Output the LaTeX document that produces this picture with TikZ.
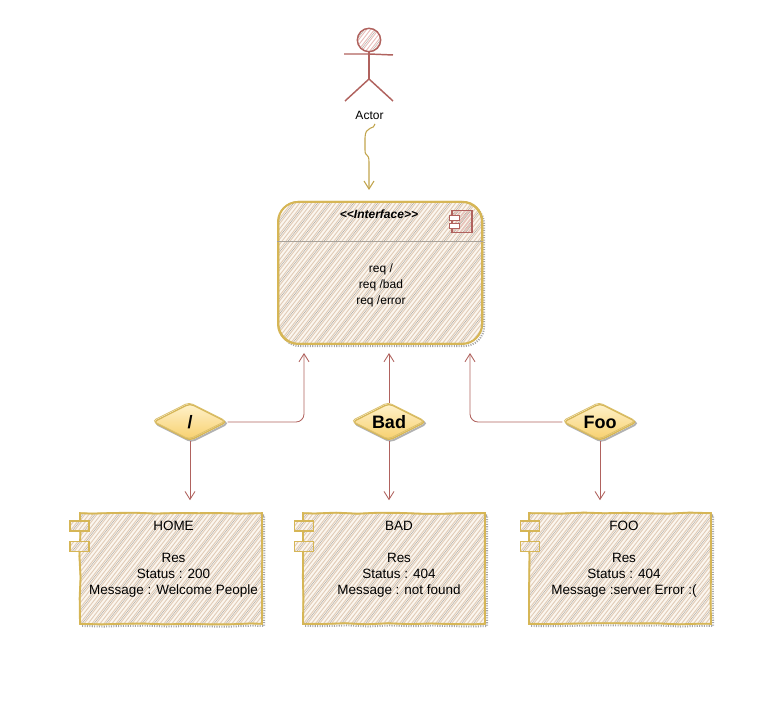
\documentclass[tikz,border=0pt]{standalone}
\usepackage{fontspec}
\setmainfont{Liberation Sans}
\usetikzlibrary{arrows.meta,decorations.pathmorphing,shapes.geometric,calc}
\definecolor{rust}{HTML}{B0625E}
\definecolor{gold}{HTML}{D6B656}
\definecolor{hatch}{HTML}{E2CDB8}
\definecolor{hatchdark}{HTML}{A8A29A}
\definecolor{rose}{HTML}{E8BDB9}
\definecolor{paper}{HTML}{FBF6EF}
\definecolor{sunlight}{HTML}{FFF2CC}
\definecolor{sundeep}{HTML}{F7CF6B}
\newcommand{\hatchlines}[1]{%
  \foreach \i in {-120,-116,...,215} {
    \draw[#1,line width=0.7pt] ([xshift=\i*0.75pt]path picture bounding box.south west) -- ++(105pt,135pt);
  }
  \foreach \i in {-118,-106,...,215} {
    \draw[hatchdark,line width=0.3pt] ([xshift=\i*0.75pt]path picture bounding box.south west) -- ++(105pt,135pt);
  }}
\tikzset{
  rough/.style={decorate,decoration={random steps,segment length=16pt,amplitude=0.45pt}},
  shade line/.style={preaction={draw=black!35,line width=1.5pt,dash pattern=on 0.8pt off 1pt,
    transform canvas={shift={(1.6pt,-1.6pt)}}}},
  hatched/.style={path picture={\hatchlines{hatch}}},
  hatchedred/.style={path picture={\hatchlines{rose}}},
  compbox/.style={draw=gold,fill=paper,line width=1.4pt,rough,shade line,hatched,
    postaction={draw=gold,line width=0.9pt,rough},
    minimum width=136.5pt,minimum height=83pt,inner sep=0pt},
  ifacebox/.style={draw=gold,fill=paper,line width=1.5pt,rounded corners=15pt,shade line,hatched,
    postaction={draw=gold,line width=0.7pt,transform canvas={shift={(0.6pt,0.5pt)}}},
    minimum width=153pt,minimum height=106.5pt,inner sep=0pt},
  portbox/.style={draw=gold,fill=paper,line width=1.2pt,minimum width=14pt,minimum height=7.5pt,inner sep=0pt,hatched},
  choice/.style={diamond,aspect=2,draw=gold,top color=sunlight,bottom color=sundeep,line width=1pt,rounded corners=3pt,
    preaction={draw=black!30,line width=1.4pt,transform canvas={shift={(1pt,-1pt)}}},
    postaction={draw=gold!85!white,line width=0.6pt,transform canvas={shift={(-0.7pt,0.9pt)}}},
    minimum width=55.5pt,minimum height=28pt,inner sep=0pt,font=\fontsize{13.5}{15}\selectfont\bfseries},
  bodytext/.style={align=center,font=\fontsize{10.1}{12}\selectfont},
  flow/.style={draw=rust,line width=0.65pt,-{Straight Barb[length=6pt,width=7.5pt]},rounded corners=6pt},
  stick/.style={draw=rust,line width=1.1pt},
}
\begin{document}
\begin{tikzpicture}[x=0.75pt,y=-0.75pt]
  \useasboundingbox (0,0) rectangle (782,712);

  % Actor
  \node[circle,stick,minimum size=17.5pt,inner sep=0pt,hatchedred] (head) at (369,40) {};
  \coordinate (neck) at (369,54);
  \coordinate (hip) at (369,79);
  \coordinate (armL) at (344,54);
  \coordinate (armR) at (393,55);
  \coordinate (legL) at (345,101);
  \coordinate (legR) at (393,101);
  \draw[stick] (head.south) -- (hip);
  \draw[stick] (armL) -- (neck) -- (armR);
  \draw[stick] (legL) -- (hip) -- (legR);
  \node[font=\fontsize{9}{11}\selectfont] (actor) at (369.5,115) {Actor};

  % Interface
  \node[ifacebox] (iface) at (380,273) {};
  \coordinate (ifaceL) at (304,344);
  \coordinate (ifaceB) at (389,344);
  \coordinate (ifaceR) at (470,344);
  \coordinate (ifaceT) at (369,202);
  \draw[hatchdark,line width=0.4pt] (iface.west |- 0,241) coordinate (divL) -- (iface.east |- 0,241);
  \node[font=\fontsize{9}{11}\selectfont\bfseries\itshape] (stereo) at (379,214) {<{}<Interface>{}>};
  \node[align=center,font=\fontsize{9}{12}\selectfont] (reqs) at (381,285) {req /\\req /bad\\req /error};

  % Interface icon
  \node[draw=rust,line width=0.9pt,minimum width=15pt,minimum height=16pt,inner sep=0pt,hatchedred] (icon) at (462,221.5) {};
  \node[draw=rust,fill=white,line width=0.7pt,minimum width=7.5pt,minimum height=3.5pt,inner sep=0pt] (icona) at (454,218) {};
  \node[draw=rust,fill=white,line width=0.7pt,minimum width=7.5pt,minimum height=3.5pt,inner sep=0pt] (iconb) at (454,226) {};

  % Actor to interface
  \draw[draw=gold!90!black,line width=0.8pt,-{Straight Barb[length=6pt,width=7.5pt]},shorten >=9pt]
    (actor.south -| 375,0) .. controls (375,130) and (365,125) .. (365,138)
    -- (365,150) .. controls (365,158) and (369,152) .. (369,162) -- (ifaceT);

  % Routes
  \node[choice] (slash) at (190,422) {/};
  \node[choice] (bad) at (389,422) {Bad};
  \node[choice] (foo) at (600,422) {Foo};

  % Components
  \node[compbox] (home) at (171,568.5) {};
  \node[portbox] (homea) at (79.5,526) {};
  \node[portbox] (homeb) at (79.5,546.5) {};
  \node[bodytext] (hometext) at (173.5,559.5) {HOME\\[4pt]\\[-4pt]Res\\Status : 200\\Message : Welcome People};

  \node[compbox] (badres) at (394,568.5) {};
  \node[portbox] (bada) at (304,526) {};
  \node[portbox] (badb) at (304,546.5) {};
  \node[bodytext] (badtext) at (399,559.5) {BAD\\[4pt]\\[-4pt]Res\\Status : 404\\Message : not found};

  \node[compbox] (foores) at (620,568.5) {};
  \node[portbox] (fooa) at (530,526) {};
  \node[portbox] (foob) at (530,546.5) {};
  \node[bodytext] (footext) at (624,559.5) {FOO\\[4pt]\\[-4pt]Res\\Status : 404\\Message :server Error :(};

  % Arrows
  \draw[flow,shorten >=6.75pt] (slash.east) -| (ifaceL);
  \draw[flow,shorten >=6.75pt] (bad.north) -- (ifaceB);
  \draw[flow,shorten >=6.75pt] (foo.west) -| (ifaceR);
  \draw[flow,shorten >=9pt] (slash.south) -- (slash.south |- home.north);
  \draw[flow,shorten >=9pt] (bad.south) -- (bad.south |- badres.north);
  \draw[flow,shorten >=9pt] (foo.south) -- (foo.south |- foores.north);
\end{tikzpicture}
\end{document}
